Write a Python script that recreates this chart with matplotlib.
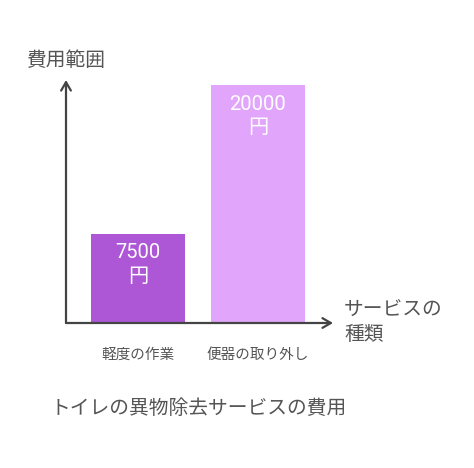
import matplotlib
matplotlib.use("Agg")
import matplotlib.pyplot as plt

plt.rcParams['font.family'] = ['Noto Sans CJK JP', 'DejaVu Sans']

categories = ["軽度の作業", "便器の取り外し"]
costs = [7500, 20000]
bar_colors = ["#ad56d6", "#e1a6fc"]
title = "トイレの異物除去サービスの費用"
y_label = "費用範囲"
x_label = "サービスの\n種類"

W, H = 474, 468
fig = plt.figure(figsize=(W / 100, H / 100), dpi=100)

# axes area in pixels: x 66..333, y 80..323 (from top)
ax = fig.add_axes([66 / W, (H - 323) / H, (333 - 66) / W, (323 - 80) / H])
xs = list(range(len(categories)))
ax.bar(xs, costs, width=0.783, color=bar_colors)
ax.set_xlim(-0.6, 1.625)
ax.set_ylim(0, 20420)

for s in ax.spines.values():
    s.set_visible(False)
ax.set_yticks([])
ax.set_xticks(xs)
ax.set_xticklabels(categories, fontsize=10.5, color="#555555")
ax.tick_params(axis='x', length=0, pad=18)

axis_col = "#444444"
arrow = dict(arrowstyle="->,head_length=0.6,head_width=0.35", color=axis_col, lw=1.6,
             shrinkA=0, shrinkB=0)
ax.annotate("", xy=(0, 1), xytext=(0, 0), xycoords='axes fraction',
            arrowprops=arrow, annotation_clip=False)
ax.annotate("", xy=(1, 0), xytext=(0, 0), xycoords='axes fraction',
            arrowprops=arrow, annotation_clip=False)

for x, v in zip(xs, costs):
    ax.annotate(f"{v}\n円", xy=(x, v), xytext=(0, -7), textcoords='offset points',
                ha='center', va='top', color="white", fontsize=14.5,
                family=['Roboto', 'Noto Sans CJK JP'], linespacing=1.3)

fig.text(66 / W, 1 - 60 / H, y_label, ha='center', va='center', fontsize=14.2, color="#555555")
fig.text(344 / W, 1 - 322 / H, x_label, ha='left', va='center', fontsize=14.2,
         color="#555555", linespacing=1.2)
fig.text(51 / W, 1 - 409 / H, title, ha='left', va='center', fontsize=14.2, color="#555555")

fig.savefig("out.png", dpi=100, facecolor="white")
